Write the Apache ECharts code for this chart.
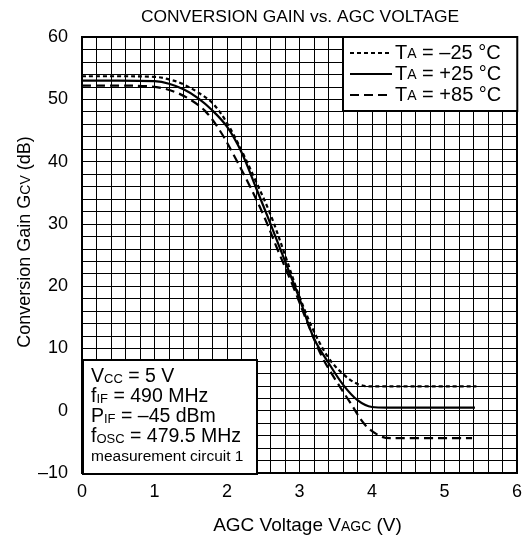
<!DOCTYPE html>
<html>
<head>
<meta charset="utf-8">
<script src="https://cdn.jsdelivr.net/npm/echarts@6/dist/echarts.min.js"></script>
<style>html,body{margin:0;padding:0;background:#fff;}#c{width:528px;height:542px;}</style>
</head>
<body>
<div id="c"></div>
<script>
// Data
var xMinus25 = [0, 0.5, 1.0, 1.2, 1.4, 1.6, 1.8, 2.0, 2.2, 2.4, 2.6, 2.8, 3.0, 3.2, 3.4, 3.6, 3.8, 4.0, 5.44];
var yMinus25 = [53.7, 53.7, 53.6, 53.2, 52.4, 51.1, 49.4, 46.2, 41.8, 36.8, 31.5, 25.0, 18.3, 12.7, 8.5, 5.9, 4.3, 3.9, 3.9];

var xPlus25 = [0, 0.5, 1.0, 1.2, 1.4, 1.6, 1.8, 2.0, 2.2, 2.4, 2.6, 2.8, 3.0, 3.2, 3.4, 3.6, 3.8, 4.0, 4.2, 5.42];
var yPlus25 = [53.0, 53.0, 52.9, 52.5, 51.6, 50.2, 48.2, 45.6, 41.5, 35.8, 30.0, 24.0, 18.0, 11.6, 7.7, 4.2, 1.7, 0.6, 0.5, 0.5];

var xPlus85 = [0, 0.5, 0.9, 1.1, 1.3, 1.5, 1.7, 1.9, 2.1, 2.3, 2.5, 2.7, 2.9, 3.1, 3.3, 3.5, 3.7, 3.9, 4.1, 4.25, 5.38];
var yPlus85 = [52.2, 52.2, 52.1, 51.8, 51.1, 49.9, 48.1, 45.0, 40.9, 36.4, 31.5, 25.8, 20.3, 14.4, 8.9, 4.9, 1.3, -2.2, -4.0, -4.4, -4.4];

var seriesNames = ['TA = \u221225 \u00b0C', 'TA = +25 \u00b0C', 'TA = +85 \u00b0C'];
var legendLabels = ['T{s|A} = \u201325 \u00b0C', 'T{s|A} = +25 \u00b0C', 'T{s|A} = +85 \u00b0C'];
var xTickLabels = ['0', '1', '2', '3', '4', '5', '6'];
var yTickLabels = ['\u201310', '0', '10', '20', '30', '40', '50', '60'];

function pairs(xs, ys) { return xs.map(function (x, i) { return [x, ys[i]]; }); }

var FONT = 'Liberation Sans, Arial, Helvetica, sans-serif';
var chart = echarts.init(document.getElementById('c'), null, { renderer: 'canvas' });

var subRich = { s: { fontSize: 14, fontFamily: FONT, color: '#000', verticalAlign: 'bottom', padding: [0, 0, 1, 0] } };

var option = {
  backgroundColor: '#fff',
  animation: false,
  title: {
    text: 'CONVERSION GAIN vs. AGC VOLTAGE',
    left: 295, textAlign: 'center', top: 4,
    textStyle: { fontFamily: FONT, fontSize: 17.4, fontWeight: 'normal', color: '#000' }
  },
  grid: { left: 82, right: 11, top: 37, bottom: 69, show: true, borderColor: '#000', borderWidth: 2, backgroundColor: 'transparent' },
  legend: {
    orient: 'vertical', left: 343, top: 37,
    itemWidth: 42, itemHeight: 14, itemGap: 1,
    padding: [6, 16, 6, 6],
    backgroundColor: '#fff', borderColor: '#000', borderWidth: 2,
    itemStyle: { opacity: 0 },
    data: seriesNames,
    formatter: function (name) { return legendLabels[seriesNames.indexOf(name)]; },
    textStyle: {
      fontFamily: FONT, fontSize: 20, color: '#000', lineHeight: 19, padding: [0, 0, 0, -2],
      rich: { s: { fontSize: 14, fontFamily: FONT, color: '#000', verticalAlign: 'bottom', lineHeight: 19, padding: [0, 0, 1, 0] } }
    }
  },
  xAxis: {
    type: 'value', min: 0, max: 6, interval: 0.2,
    axisLine: { show: false }, axisTick: { show: false },
    splitLine: { show: true, lineStyle: { color: '#000', width: 1 } },
    axisLabel: {
      fontFamily: FONT, fontSize: 18, color: '#000', margin: 10,
      formatter: function (v) { var r = Math.round(v); return Math.abs(v - r) < 1e-6 ? xTickLabels[r] : ''; }
    },
    name: 'AGC Voltage V{s|AGC} (V)', nameLocation: 'middle', nameGap: 43,
    nameTextStyle: { fontFamily: FONT, fontSize: 19, color: '#000', padding: [0, 0, 0, 16], rich: subRich }
  },
  yAxis: {
    type: 'value', min: -10, max: 60, interval: 2,
    axisLine: { show: false }, axisTick: { show: false },
    splitLine: { show: true, lineStyle: { color: '#000', width: 1 } },
    axisLabel: {
      fontFamily: FONT, fontSize: 18, color: '#000', margin: 14,
      formatter: function (v) { var r = Math.round(v); return (r % 10 === 0) ? yTickLabels[(r + 10) / 10] : ''; }
    },
    name: 'Conversion Gain G{s|CV} (dB)', nameLocation: 'middle', nameGap: 48, nameRotate: 90,
    nameMoveOverlap: false,
    nameTextStyle: { fontFamily: FONT, fontSize: 18, color: '#000', padding: [0, 0, 0, 26], rich: subRich }
  },
  series: [
    { name: seriesNames[0], type: 'line', data: pairs(xMinus25, yMinus25), symbol: 'none', smooth: 0.35,
      lineStyle: { color: '#000', width: 2.2, type: [4, 3] }, itemStyle: { color: '#000' }, z: 3 },
    { name: seriesNames[1], type: 'line', data: pairs(xPlus25, yPlus25), symbol: 'none', smooth: 0.35,
      lineStyle: { color: '#000', width: 2.2, type: 'solid' }, itemStyle: { color: '#000' }, z: 3 },
    { name: seriesNames[2], type: 'line', data: pairs(xPlus85, yPlus85), symbol: 'none', smooth: 0.35,
      lineStyle: { color: '#000', width: 2.2, type: [9, 5] }, itemStyle: { color: '#000' }, z: 3 }
  ],
  graphic: [
    { type: 'rect', left: 82, top: 359, z: 100,
      shape: { x: 0, y: 0, width: 174, height: 114 },
      style: { fill: '#ffffff', stroke: '#000', lineWidth: 2 } },
    { type: 'text', left: 91, top: 367, z: 101,
      style: {
        text: 'V{s|CC} = 5 V\nf{s|IF} = 490 MHz\nP{s|IF} = \u201345 dBm\nf{s|OSC} = 479.5 MHz\n{m|measurement circuit 1}',
        font: '19.5px ' + FONT, fill: '#000', lineHeight: 20,
        rich: {
          s: { fontSize: 13, fontFamily: FONT, fill: '#000', verticalAlign: 'bottom', lineHeight: 20, padding: [0, 0, 1, 0] },
          m: { fontSize: 15.5, fontFamily: FONT, fill: '#000', lineHeight: 20 }
        }
      }
    }
  ]
};
chart.setOption(option);
</script>
</body>
</html>
